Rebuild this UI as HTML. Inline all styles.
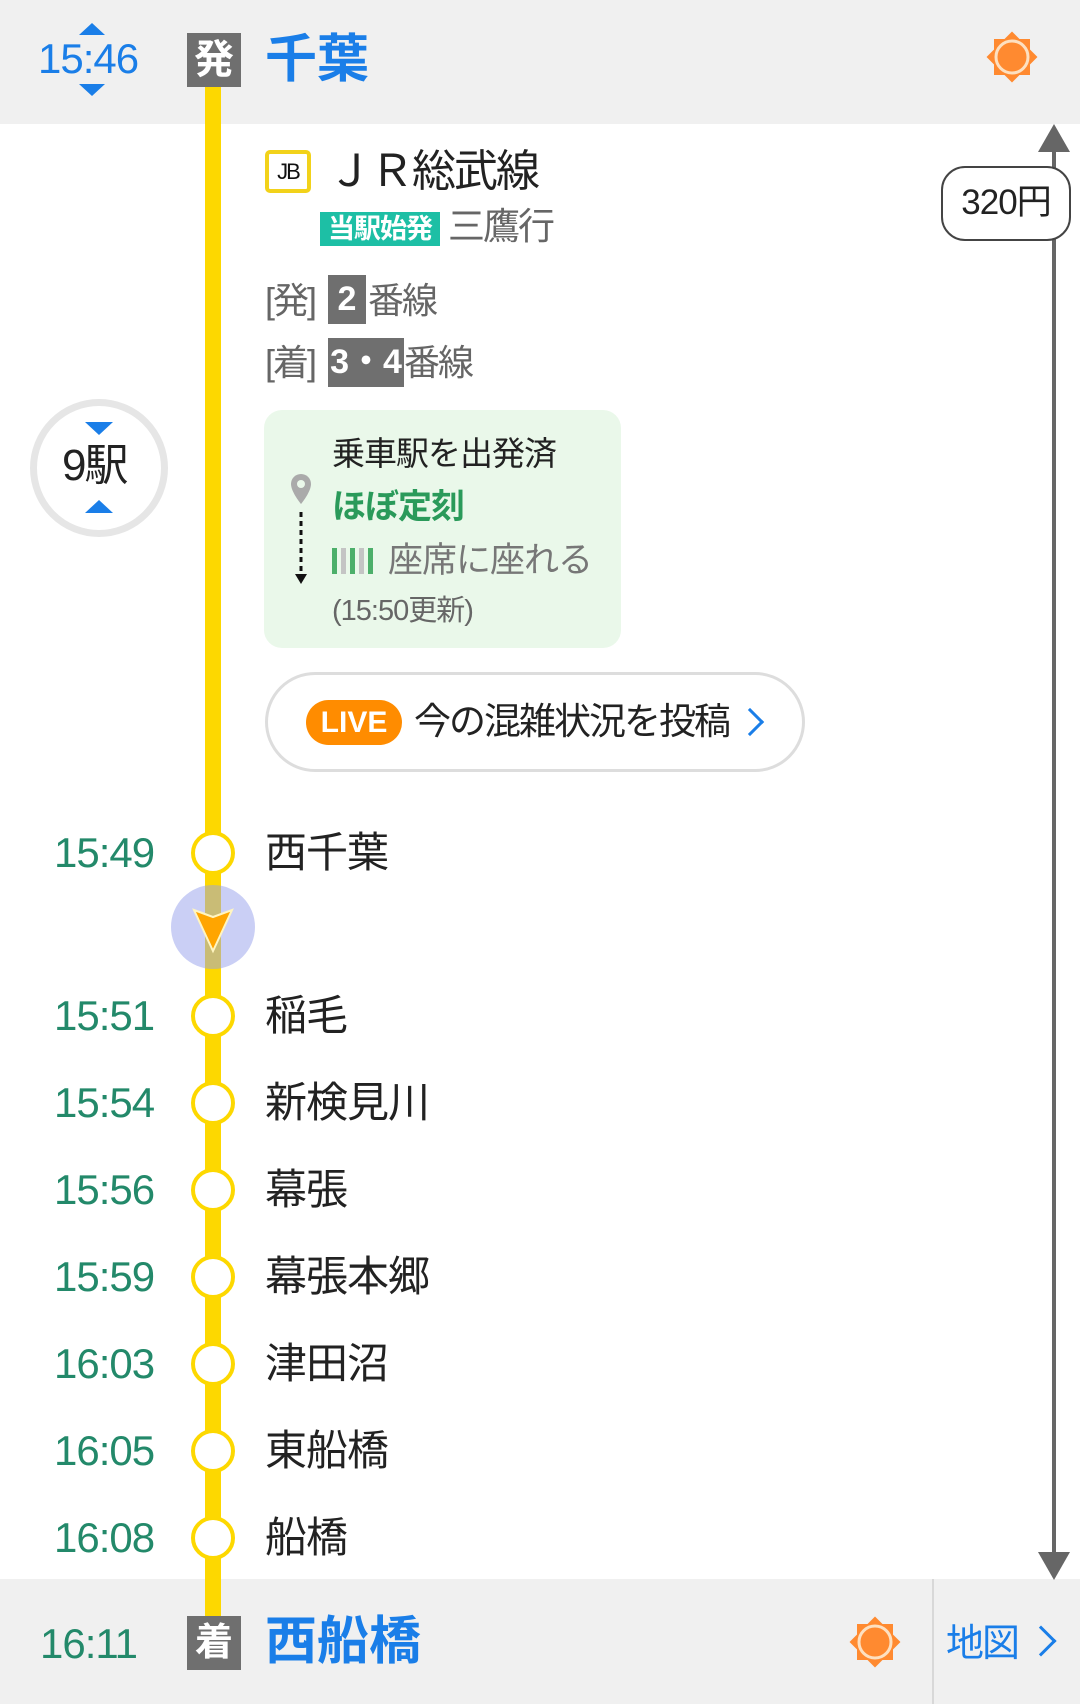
<!DOCTYPE html>
<html><head><meta charset="utf-8"><style>
*{margin:0;padding:0;box-sizing:border-box}
body{width:1080px;height:1704px;position:relative;background:#fff;font-family:"Liberation Sans","Noto Sans CJK JP",sans-serif;overflow:hidden}
.a{position:absolute;white-space:nowrap}
.band{position:absolute;left:0;width:1080px;background:#f0f0f0}
.time{color:#23896a;font-size:42px;line-height:1;letter-spacing:-1px}
.name{color:#222;font-size:42px;line-height:1;letter-spacing:-1px}
.st{position:absolute;left:191px;width:44px;height:44px;border:4px solid #fdd800;border-radius:50%;background:#fff}
</style></head><body>
<div class="band" style="top:0;height:124px"></div>
<div class="band" style="top:1579px;height:125px"></div>
<div class="a" style="left:205px;top:85px;width:16px;height:1535px;background:#fdd800"></div>
<div class="a" style="left:38px;top:38px;font-size:42px;color:#1a7ee8;line-height:1;letter-spacing:-1px">15:46</div>
<div class="a" style="left:79px;top:23px;width:0;height:0;border-left:13px solid transparent;border-right:13px solid transparent;border-bottom:12px solid #1a7ee8"></div>
<div class="a" style="left:79px;top:84px;width:0;height:0;border-left:13px solid transparent;border-right:13px solid transparent;border-top:12px solid #1a7ee8"></div>
<div class="a" style="left:187px;top:33px;width:54px;height:54px;background:#6f6f6f;color:#fff;font-size:40px;font-weight:bold;text-align:center;line-height:54px">発</div>
<div class="a" style="left:265px;top:32px;font-size:52px;font-weight:bold;color:#1a7ee8;line-height:1.1">千葉</div>
<svg class="a" style="left:984px;top:29px" width="56" height="56" viewBox="0 0 56 56"><g fill="#ff8a30"><rect x="10" y="10" width="36" height="36"/><rect x="10" y="10" width="36" height="36" transform="rotate(45 28 28)"/></g><circle cx="28" cy="28" r="16" fill="#ff8a30" stroke="#fde0c0" stroke-width="3"/></svg>
<div class="a" style="left:1052px;top:148px;width:4px;height:1410px;background:#666"></div>
<div class="a" style="left:1038px;top:124px;width:0;height:0;border-left:16px solid transparent;border-right:16px solid transparent;border-bottom:28px solid #666"></div>
<div class="a" style="left:1038px;top:1552px;width:0;height:0;border-left:16px solid transparent;border-right:16px solid transparent;border-top:28px solid #666"></div>
<div class="a" style="left:941px;top:166px;width:130px;height:75px;border:2.5px solid #444;border-radius:24px;background:#fff;font-size:35px;color:#222;text-align:center;line-height:70px;letter-spacing:-1px">320円</div>
<div class="a" style="left:265px;top:150px;width:46px;height:43px;border:4px solid #f2d21a;border-radius:5px;font-size:22px;text-align:center;line-height:35px;color:#111;letter-spacing:-2px">JB</div>
<div class="a" style="left:328px;top:148px;font-size:44px;color:#222;line-height:1.1;letter-spacing:-2px">ＪＲ総武線</div>
<div class="a" style="left:320px;top:212px;width:120px;height:34px;background:#1dbfa5;color:#fff;font-size:27px;font-weight:bold;text-align:center;line-height:34px;letter-spacing:-1px">当駅始発</div>
<div class="a" style="left:448px;top:207px;font-size:37px;color:#666;line-height:1.1;letter-spacing:-2px">三鷹行</div>
<div class="a" style="left:265px;top:279px;font-size:36px;color:#666;line-height:1.2;letter-spacing:-2px">[発]</div>
<div class="a" style="left:328px;top:275px;width:38px;height:49px;background:#6f6f6f;color:#fff;font-size:34px;font-weight:bold;text-align:center;line-height:49px">2</div>
<div class="a" style="left:368px;top:279px;font-size:36px;color:#666;line-height:1.2;letter-spacing:-2px">番線</div>
<div class="a" style="left:265px;top:341px;font-size:36px;color:#666;line-height:1.2;letter-spacing:-2px">[着]</div>
<div class="a" style="left:328px;top:338px;width:76px;height:49px;background:#6f6f6f;color:#fff;font-size:34px;font-weight:bold;text-align:center;line-height:49px">3・4</div>
<div class="a" style="left:404px;top:341px;font-size:36px;color:#666;line-height:1.2;letter-spacing:-2px">番線</div>
<div class="a" style="left:30px;top:399px;width:138px;height:138px;border:7px solid #e6e6e6;border-radius:50%;background:#fff"></div>
<div class="a" style="left:62px;top:444px;font-size:44px;color:#222;line-height:1;letter-spacing:-2px">9駅</div>
<div class="a" style="left:85px;top:422px;width:0;height:0;border-left:14px solid transparent;border-right:14px solid transparent;border-top:13px solid #1a7ee8"></div>
<div class="a" style="left:85px;top:500px;width:0;height:0;border-left:14px solid transparent;border-right:14px solid transparent;border-bottom:13px solid #1a7ee8"></div>
<div class="a" style="left:264px;top:410px;width:357px;height:238px;background:#eaf8ea;border-radius:18px"></div>
<svg class="a" style="left:287px;top:470px" width="30" height="120" viewBox="0 0 30 120"><path d="M14 4a10 10 0 0 1 10 10c0 8-10 20-10 20S4 22 4 14A10 10 0 0 1 14 4z" fill="#aaa"/><circle cx="14" cy="14" r="4" fill="#eaf8ea"/><line x1="14" y1="42" x2="14" y2="104" stroke="#111" stroke-width="3" stroke-dasharray="5 4"/><path d="M8 104h12l-6 10z" fill="#111"/></svg>
<div class="a" style="left:332px;top:434px;font-size:33px;color:#222;line-height:1.2;letter-spacing:-1px">乗車駅を出発済</div>
<div class="a" style="left:332px;top:487px;font-size:34px;color:#2a9a5a;font-weight:bold;line-height:1.2;letter-spacing:-1px">ほぼ定刻</div>
<div class="a" style="left:332px;top:548px;width:44px;height:26px;background:repeating-linear-gradient(90deg,#4caf6a 0 5px,transparent 5px 9px,#c4c4c4 9px 14px,transparent 14px 18px)"></div>
<div class="a" style="left:388px;top:540px;font-size:35px;color:#777;line-height:1.2;letter-spacing:-1px">座席に座れる</div>
<div class="a" style="left:332px;top:594px;font-size:29px;color:#666;line-height:1.2;letter-spacing:-1px">(15:50更新)</div>
<div class="a" style="left:265px;top:672px;width:540px;height:100px;border:3px solid #ddd;border-radius:50px;background:#fff"></div>
<div class="a" style="left:306px;top:700px;width:96px;height:45px;background:#ff8c00;border-radius:23px;color:#fff;font-weight:bold;font-size:30px;text-align:center;line-height:45px">LIVE</div>
<div class="a" style="left:414px;top:700px;font-size:37px;color:#222;line-height:1.2;letter-spacing:-2px">今の混雑状況を投稿</div>
<div class="a" style="left:740px;top:712px;width:20px;height:20px;border-top:3px solid #1a7ee8;border-right:3px solid #1a7ee8;transform:rotate(45deg)"></div>
<div class="st" style="top:831px"></div>
<div class="a time" style="left:54px;top:832px">15:49</div><div class="a name" style="left:265px;top:832px">西千葉</div>
<div class="a" style="left:171px;top:885px;width:84px;height:84px;border-radius:50%;background:rgba(150,160,235,0.5)"></div>
<svg class="a" style="left:191px;top:905px" width="44" height="50" viewBox="0 0 44 50"><path d="M3 5L22 12L41 5L22 46z" fill="#ffa500" stroke="#fff5c0" stroke-width="2"/></svg>
<div class="st" style="top:994px"></div>
<div class="a time" style="left:54px;top:995px">15:51</div><div class="a name" style="left:265px;top:995px">稲毛</div>
<div class="st" style="top:1081px"></div>
<div class="a time" style="left:54px;top:1082px">15:54</div><div class="a name" style="left:265px;top:1082px">新検見川</div>
<div class="st" style="top:1168px"></div>
<div class="a time" style="left:54px;top:1169px">15:56</div><div class="a name" style="left:265px;top:1169px">幕張</div>
<div class="st" style="top:1255px"></div>
<div class="a time" style="left:54px;top:1256px">15:59</div><div class="a name" style="left:265px;top:1256px">幕張本郷</div>
<div class="st" style="top:1342px"></div>
<div class="a time" style="left:54px;top:1343px">16:03</div><div class="a name" style="left:265px;top:1343px">津田沼</div>
<div class="st" style="top:1429px"></div>
<div class="a time" style="left:54px;top:1430px">16:05</div><div class="a name" style="left:265px;top:1430px">東船橋</div>
<div class="st" style="top:1516px"></div>
<div class="a time" style="left:54px;top:1517px">16:08</div><div class="a name" style="left:265px;top:1517px">船橋</div>
<div class="a time" style="left:40px;top:1623px">16:11</div>
<div class="a" style="left:187px;top:1616px;width:54px;height:54px;background:#6f6f6f;color:#fff;font-size:38px;font-weight:bold;text-align:center;line-height:54px">着</div>
<div class="a" style="left:265px;top:1614px;font-size:52px;font-weight:bold;color:#1a7ee8;line-height:1.1">西船橋</div>
<svg class="a" style="left:847px;top:1614px" width="56" height="56" viewBox="0 0 56 56"><g fill="#ff8a30"><rect x="10" y="10" width="36" height="36"/><rect x="10" y="10" width="36" height="36" transform="rotate(45 28 28)"/></g><circle cx="28" cy="28" r="16" fill="#ff8a30" stroke="#fde0c0" stroke-width="3"/></svg>
<div class="a" style="left:932px;top:1579px;width:2px;height:125px;background:#d8d8d8"></div>
<div class="a" style="left:946px;top:1622px;font-size:38px;color:#1a7ee8;line-height:1.2;letter-spacing:-2px">地図</div>
<div class="a" style="left:1030px;top:1630px;width:22px;height:22px;border-top:3px solid #1a7ee8;border-right:3px solid #1a7ee8;transform:rotate(45deg)"></div>
</body></html>
